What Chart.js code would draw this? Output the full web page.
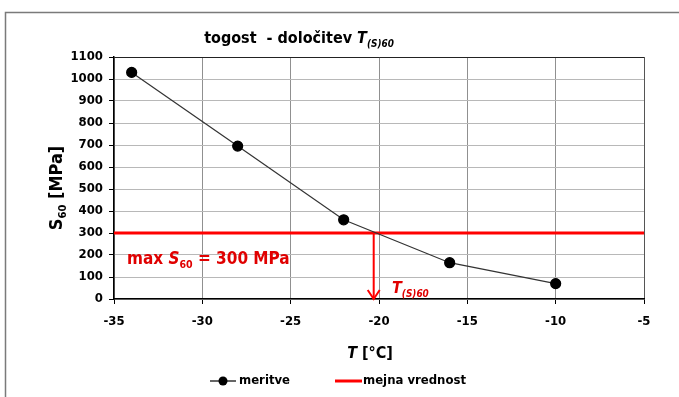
<!DOCTYPE html>
<html>
<head>
<meta charset="utf-8">
<script src="https://cdn.jsdelivr.net/npm/chart.js@4/dist/chart.umd.min.js"></script>
<style>
  body { margin: 0; background: #fff; }
  #wrap { width: 679px; height: 397px; position: relative; }
</style>
</head>
<body>
<div id="wrap"><canvas id="chart" width="679" height="397"></canvas></div>
<script>
// measured points
var tempValues = [-34, -28, -22, -16, -10];
var stiffValues = [1030, 695, 360, 165, 70];
// limit value and resulting temperature
var limitX = [-35, -5];
var limitY = [300, 300];
var arrowX = [-20.3, -20.3];
var arrowY = [300, 0];
var seriesNames = ["meritve", "mejna vrednost"];

var FONT = "'Liberation Sans Narrow', 'DejaVu Sans Condensed', 'Open Sans', sans-serif";

function toPoints(xs, ys) {
  var pts = [];
  for (var i = 0; i < xs.length; i++) {
    pts.push({x: xs[i], y: ys[i]});
  }
  return pts;
}

// text pieces: [text, italic, sub]
function drawRich(ctx, parts, x, y, size, color, align) {
  var total = 0, i;
  for (i = 0; i < parts.length; i++) {
    var p = parts[i];
    var s = p[2] ? size * 0.62 : size;
    ctx.font = (p[1] ? "italic " : "") + "bold " + s + "px " + FONT;
    total += ctx.measureText(p[0]).width;
  }
  var cx = align === "center" ? x - total / 2 : x;
  ctx.fillStyle = color;
  ctx.textAlign = "left";
  ctx.textBaseline = "alphabetic";
  for (i = 0; i < parts.length; i++) {
    var p = parts[i];
    var s = p[2] ? size * 0.62 : size;
    ctx.font = (p[1] ? "italic " : "") + "bold " + s + "px " + FONT;
    ctx.fillText(p[0], cx, p[2] ? y + size * 0.22 : y);
    cx += ctx.measureText(p[0]).width;
  }
}

var decor = {
  id: "decor",
  beforeDraw: function(chart) {
    var ctx = chart.ctx;
    ctx.save();
    ctx.fillStyle = "#fff";
    ctx.fillRect(0, 0, chart.width, chart.height);
    ctx.strokeStyle = "#7a7a7a";
    ctx.lineWidth = 1.5;
    ctx.strokeRect(5.5, 12.5, 720, 420);
    ctx.restore();
  },
  afterDraw: function(chart) {
    var ctx = chart.ctx;
    var xs = chart.scales.x, ys = chart.scales.y;
    ctx.save();
    // title
    drawRich(ctx, [["togost  - določitev ", false, false], ["T", true, false], ["(S)60", true, true]],
      299, 43, 16, "#000", "center");
    // y title
    ctx.translate(62, 188);
    ctx.rotate(-Math.PI / 2);
    drawRich(ctx, [["S", false, false], ["60", false, true], [" [MPa]", false, false]], 0, 0, 18, "#000", "center");
    ctx.setTransform(1, 0, 0, 1, 0, 0);
    // x title
    drawRich(ctx, [["T", true, false], [" [°C]", false, false]], 370, 358, 16, "#000", "center");
    // annotations
    drawRich(ctx, [["max ", false, false], ["S", true, false], ["60", false, true], [" = 300 MPa", false, false]],
      127, 264, 17, "#e00000", "left");
    drawRich(ctx, [["T", true, false], ["(S)60", true, true]], 392, 293, 16, "#e00000", "left");
    // arrow head
    var ax = xs.getPixelForValue(arrowX[1]);
    var ay = ys.getPixelForValue(arrowY[1]);
    ctx.strokeStyle = "#ff0000";
    ctx.lineWidth = 2;
    ctx.beginPath();
    ctx.moveTo(ax - 6, ay - 9);
    ctx.lineTo(ax, ay);
    ctx.lineTo(ax + 6, ay - 9);
    ctx.stroke();
    // legend
    var ly = 381;
    ctx.strokeStyle = "#333";
    ctx.lineWidth = 1.5;
    ctx.beginPath(); ctx.moveTo(210, ly); ctx.lineTo(236, ly); ctx.stroke();
    ctx.fillStyle = "#000";
    ctx.beginPath(); ctx.arc(223, ly, 4.5, 0, Math.PI * 2); ctx.fill();
    ctx.font = "bold 13px " + FONT;
    ctx.textBaseline = "middle";
    ctx.fillText(seriesNames[0], 239, ly);
    ctx.strokeStyle = "#ff0000";
    ctx.lineWidth = 3;
    ctx.beginPath(); ctx.moveTo(335, ly); ctx.lineTo(362, ly); ctx.stroke();
    ctx.fillStyle = "#000";
    ctx.fillText(seriesNames[1], 363, ly);
    ctx.restore();
  }
};

new Chart(document.getElementById("chart"), {
  type: "scatter",
  data: {
    datasets: [
      {
        label: seriesNames[0],
        data: toPoints(tempValues, stiffValues),
        showLine: true,
        borderColor: "#333",
        borderWidth: 1.2,
        pointRadius: 5,
        pointBackgroundColor: "#000",
        pointBorderColor: "#000",
        order: 1
      },
      {
        label: seriesNames[1],
        data: toPoints(limitX, limitY),
        showLine: true,
        borderColor: "#ff0000",
        borderWidth: 3,
        pointRadius: 0,
        order: 2
      },
      {
        label: "T",
        data: toPoints(arrowX, arrowY),
        showLine: true,
        borderColor: "#ff0000",
        borderWidth: 2,
        pointRadius: 0,
        order: 3
      }
    ]
  },
  options: {
    responsive: false,
    animation: false,
    layout: { padding: { left: 0, right: 35, top: 57, bottom: 0 } },
    plugins: {
      legend: { display: false },
      title: { display: false },
      tooltip: { enabled: false }
    },
    scales: {
      x: {
        type: "linear",
        min: -35,
        max: -5,
        ticks: {
          stepSize: 5,
          color: "#000",
          font: { family: FONT, size: 13, weight: "bold" },
          padding: 10,
          callback: function(v) { return String(v); }
        },
        grid: {
          color: function(c) { return c.index === 6 ? "#555" : "#909090"; },
          tickColor: "#000",
          tickLength: 5,
          lineWidth: 1
        },
        border: { color: "#000", width: 1.5 },
        afterFit: function(s) { s.height = 98; }
      },
      y: {
        min: 0,
        max: 1100,
        ticks: {
          stepSize: 100,
          color: "#000",
          font: { family: FONT, size: 13, weight: "bold" },
          padding: 6,
          callback: function(v) { return String(v); }
        },
        grid: {
          color: function(c) { return c.index === 11 ? "#222" : "#b8b8b8"; },
          tickColor: "#000",
          tickLength: 5,
          lineWidth: 1
        },
        border: { color: "#000", width: 1.5 },
        afterFit: function(s) { s.width = 114; }
      }
    }
  },
  plugins: [decor]
});
</script>
</body>
</html>
